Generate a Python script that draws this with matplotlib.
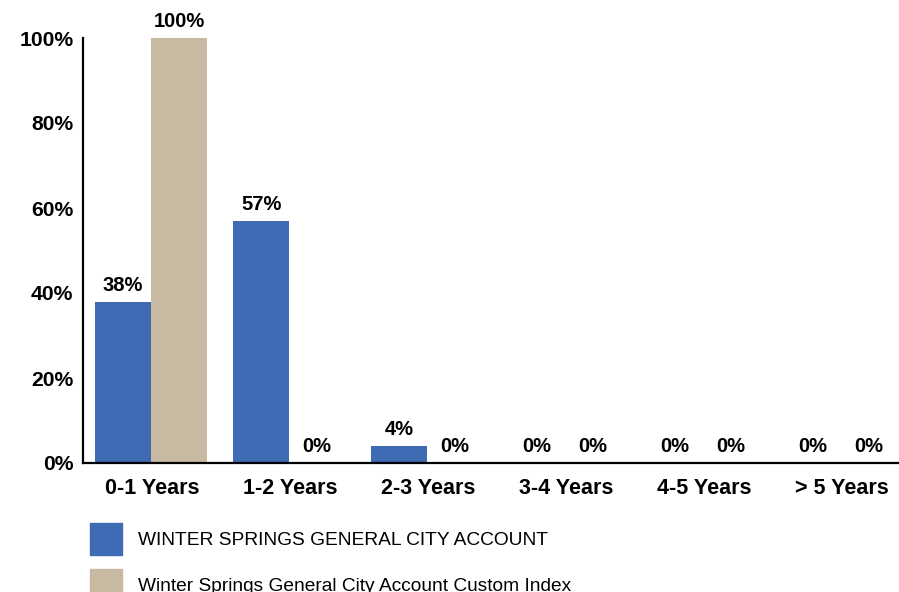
import numpy as np
import matplotlib.pyplot as plt
from matplotlib.patches import Patch

categories = ['0-1 Years', '1-2 Years', '2-3 Years', '3-4 Years', '4-5 Years', '> 5 Years']
account = [38, 57, 4, 0, 0, 0]
index = [100, 0, 0, 0, 0, 0]
series_names = ['WINTER SPRINGS GENERAL CITY ACCOUNT',
                'Winter Springs General City Account Custom Index']
yticks = [0, 20, 40, 60, 80, 100]

BLUE = '#3F6AB4'
TAN = '#C8B9A3'

plt.rcParams['font.family'] = ['Liberation Sans', 'DejaVu Sans']

fig = plt.figure(figsize=(8.99, 5.92), dpi=100)
ax = fig.add_axes([83 / 899, 129 / 592, 828 / 899, 425 / 592])

x = np.arange(len(categories))
w = 0.405
b1 = ax.bar(x - w / 2 - 0.007, account, width=w, color=BLUE)
b2 = ax.bar(x + w / 2 - 0.007, index, width=w, color=TAN)

for bars, vals in ((b1, account), (b2, index)):
    for bar, v in zip(bars, vals):
        ax.annotate(f'{v}%', (bar.get_x() + bar.get_width() / 2, v),
                    xytext=(0, 5), textcoords='offset points',
                    ha='center', va='bottom', fontsize=14.5, fontweight='bold')

ax.set_xlim(-0.5, len(categories) - 0.5)
ax.set_ylim(0, 100)
ax.set_xticks(x)
ax.set_xticklabels(categories, fontsize=15.5, fontweight='bold')
ax.set_yticks(yticks)
ax.set_yticklabels([f'{t}%' for t in yticks], fontsize=15.2, fontweight='bold')
ax.tick_params(axis='both', length=0)
ax.tick_params(axis='x', pad=11)
ax.tick_params(axis='y', pad=7)
for s in ['top', 'right']:
    ax.spines[s].set_visible(False)
for s in ['left', 'bottom']:
    ax.spines[s].set_linewidth(1.6)
    ax.spines[s].set_color('black')

handles = [Patch(color=BLUE), Patch(color=TAN)]
fig.legend(handles, series_names, loc='upper left',
           bbox_to_anchor=(90 / 899, 1 - 523 / 592), frameon=False,
           fontsize=13.8, handlelength=1.67, handleheight=2.2,
           handletextpad=0.82, labelspacing=0.72, borderaxespad=0, borderpad=0)

fig.savefig('out.png', dpi=100)
